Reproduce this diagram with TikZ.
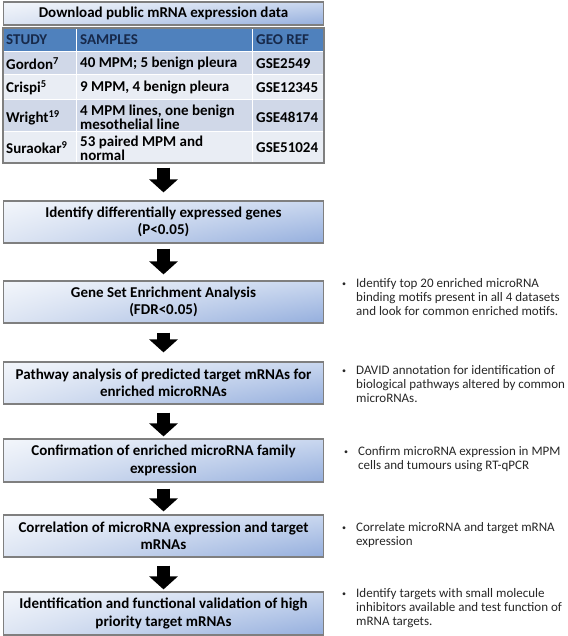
\documentclass[tikz,border=0pt]{standalone}
\usepackage{fontspec}
\setmainfont{Carlito}
\usetikzlibrary{arrows.meta,shadings}
\definecolor{hdr}{HTML}{4F81BD}
\definecolor{hdrtext}{HTML}{17294A}
\definecolor{rowa}{HTML}{D0D8E8}
\definecolor{rowb}{HTML}{E9EDF4}
\definecolor{boxline}{HTML}{7F7F7F}
\definecolor{gul}{HTML}{F3F6FB}
\definecolor{gur}{HTML}{C9D7EF}
\definecolor{gll}{HTML}{DDE5F3}
\definecolor{glr}{HTML}{94AEDD}
\definecolor{bultext}{HTML}{262626}
\begin{document}
\begin{tikzpicture}[x=1pt,y=-1pt,
  stepbox/.style={draw=boxline, line width=1.2pt, minimum width=320pt, minimum height=42pt,
    inner sep=1pt, align=center, font=\fontsize{15}{17.5}\selectfont\bfseries,
    upper left=gul, upper right=gur, lower left=gll, lower right=glr},
  blockarr/.style={line width=13pt, black, -{Triangle[width=28pt,length=13pt]}},
  celltext/.style={anchor=west, inner sep=0pt, align=left, font=\fontsize{15}{10.5}\selectfont\bfseries},
  hdrtextst/.style={celltext, text=hdrtext},
  bultxt/.style={anchor=north west, inner sep=0pt, align=left, text=bultext, font=\fontsize{13}{14.3}\selectfont},
  bulmark/.style={inner sep=0pt, text=bultext, font=\fontsize{8}{8}\selectfont}
]
\useasboundingbox (0,0) rectangle (567,636);

% top box
\node[stepbox, minimum height=23pt] (b1) at (163.5,13.5) {Download public mRNA expression data};

% table
\fill[hdr] (3,28) rectangle (324,52);
\fill[rowa] (3,52) rectangle (324,75);
\fill[rowb] (3,75) rectangle (324,100);
\fill[rowa] (3,100) rectangle (324,132);
\fill[rowb] (3,132) rectangle (324,163);
\draw[white, line width=1pt] (3,52) -- (324,52) (3,75) -- (324,75) (3,100) -- (324,100) (3,132) -- (324,132)
  (76,28) -- (76,163) (252,28) -- (252,163);
\node[draw=boxline, line width=1.2pt, minimum width=321pt, minimum height=135pt, inner sep=0pt] (tbl) at (163.5,95.5) {};

\node[hdrtextst] (h1) at (6,40) {STUDY};
\node[hdrtextst] (h2) at (80,40) {SAMPLES};
\node[hdrtextst] (h3) at (256,40) {GEO REF};

\node[celltext] (s1) at (6,63.5) {Gordon\textsuperscript{7}};
\node[celltext] (m1) at (80,63.5) {40 MPM; 5 benign pleura};
\node[celltext] (g1) at (256,63.5) {GSE2549};

\node[celltext] (s2) at (6,87.5) {Crispi\textsuperscript{5}};
\node[celltext] (m2) at (80,87.5) {9 MPM, 4 benign pleura};
\node[celltext] (g2) at (256,87.5) {GSE12345};

\node[celltext] (s3) at (6,118) {Wright\textsuperscript{19}};
\node[celltext] (m3) at (80,117) {4 MPM lines, one benign\\mesothelial line};
\node[celltext] (g3) at (256,117) {GSE48174};

\node[celltext] (s4) at (6,148) {Suraokar\textsuperscript{9}};
\node[celltext] (m4) at (80,148) {53 paired MPM and\\normal};
\node[celltext] (g4) at (256,148) {GSE51024};

% step boxes
\node[stepbox] (b2) at (163.5,222) {Identify differentially expressed genes\\(P<0.05)};
\node[stepbox] (b3) at (163.5,302) {Gene Set Enrichment Analysis\\(FDR<0.05)};
\node[stepbox] (b4) at (163.5,383) {Pathway analysis of predicted target mRNAs for\\enriched microRNAs};
\node[stepbox, minimum height=43pt] (b5) at (163.5,460.5) {Confirmation of enriched microRNA family\\expression};
\node[stepbox] (b6) at (163.5,536) {Correlation of microRNA expression and target\\mRNAs};
\node[stepbox, minimum height=43pt] (b7) at (163.5,613.5) {Identification and functional validation of high\\priority target mRNAs};

% arrows
\draw[blockarr, shorten <=4pt, shorten >=8pt] (tbl.south) -- (b2.north);
\draw[blockarr, shorten <=5pt, shorten >=6pt] (b2.south) -- (b3.north);
\draw[blockarr, shorten <=9pt, shorten >=9pt] (b3.south) -- (b4.north);
\draw[blockarr, shorten <=8pt, shorten >=2pt] (b4.south) -- (b5.north);
\draw[blockarr, shorten <=6pt, shorten >=3pt] (b5.south) -- (b6.north);
\draw[blockarr, shorten <=8pt, shorten >=2pt] (b6.south) -- (b7.north);

% bullet notes
\node[bulmark] (d1) at (344,285) {\textbullet};
\node[bultxt] (n1) at (356,278) {Identify top 20 enriched microRNA\\binding motifs present in all 4 datasets\\and look for common enriched motifs.};
\node[bulmark] (d2) at (344,372) {\textbullet};
\node[bultxt] (n2) at (356,365) {DAVID annotation for identification of\\biological pathways altered by common\\microRNAs.};
\node[bulmark] (d3) at (346,453) {\textbullet};
\node[bultxt] (n3) at (358,446) {Confirm microRNA expression in MPM\\cells and tumours using RT-qPCR};
\node[bulmark] (d4) at (344,529) {\textbullet};
\node[bultxt] (n4) at (356,522) {Correlate microRNA and target mRNA\\expression};
\node[bulmark] (d5) at (344,595) {\textbullet};
\node[bultxt] (n5) at (356,588) {Identify targets with small molecule\\inhibitors available and test function of\\mRNA targets.};
\end{tikzpicture}
\end{document}
